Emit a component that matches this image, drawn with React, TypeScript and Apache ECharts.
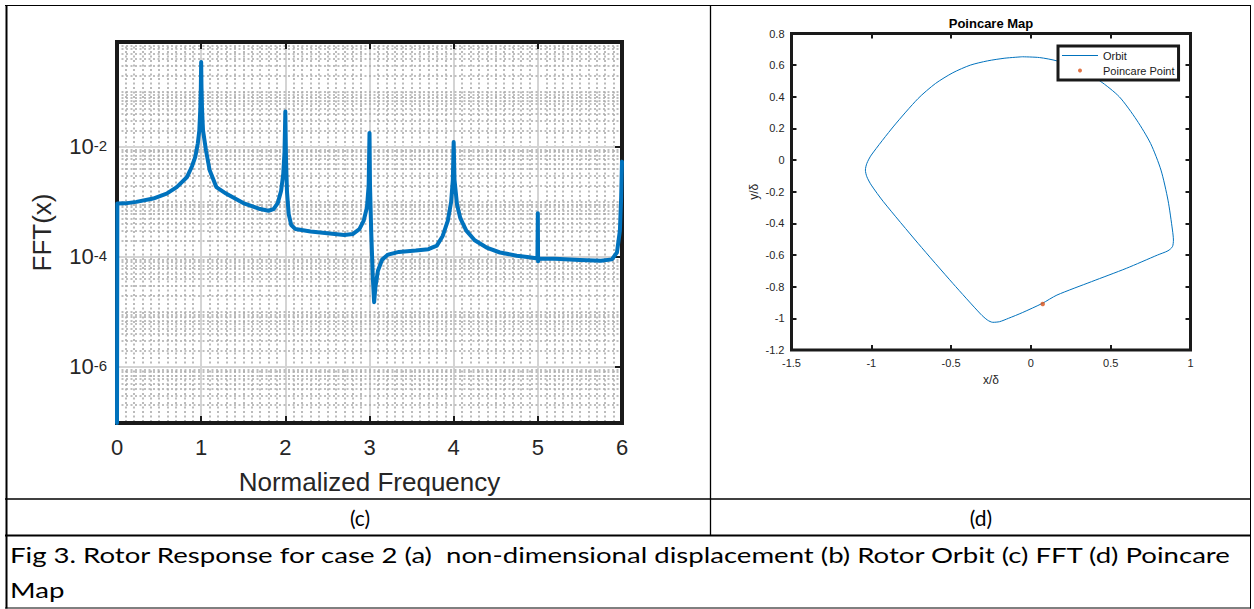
import React, { useEffect, useRef } from "react";
import * as echarts from "echarts";

// ---------- FFT panel data ----------
const fftFreq = [
  0, 0.004, 0.1, 0.23, 0.43, 0.59, 0.71, 0.83, 0.89, 0.93, 0.96, 0.978, 0.99, 0.996, 1.0,
  1.004, 1.01, 1.022, 1.057, 1.1, 1.18, 1.3, 1.5, 1.7, 1.8, 1.86, 1.91, 1.95, 1.975, 1.99,
  2.0, 2.008, 2.02, 2.04, 2.07, 2.12, 2.3, 2.5, 2.7, 2.8, 2.88, 2.93, 2.97, 2.99, 3.0,
  3.006, 3.02, 3.04, 3.055, 3.07, 3.1, 3.15, 3.22, 3.35, 3.55, 3.7, 3.8, 3.87, 3.93, 3.97,
  3.99, 4.0, 4.01, 4.04, 4.08, 4.15, 4.25, 4.4, 4.55, 4.75, 4.9, 4.995, 5.0, 5.003, 5.01,
  5.2, 5.5, 5.75, 5.88, 5.94, 5.975, 5.99, 6.0,
];
const fftAmp = [
  9.5e-8, 9.3e-4, 9.4e-4, 1.0e-3, 1.15e-3, 1.41e-3, 1.86e-3, 2.8e-3, 4.4e-3, 6.6e-3, 1.15e-2, 2.0e-2, 5.0e-2, 1.2e-1, 3.5e-1,
  1.2e-1, 5.0e-2, 2.0e-2, 8.7e-3, 3.8e-3, 1.86e-3, 1.4e-3, 9.5e-4, 7.4e-4, 6.9e-4, 7.4e-4, 9.5e-4, 1.6e-3, 3.2e-3, 8.0e-3,
  4.4e-2, 6.0e-3, 1.5e-3, 6.0e-4, 3.8e-4, 3.2e-4, 2.9e-4, 2.7e-4, 2.5e-4, 2.6e-4, 3.2e-4, 4.5e-4, 8.0e-4, 2.0e-3, 1.8e-2,
  2.0e-3, 3.0e-4, 4.0e-5, 1.5e-5, 2.8e-5, 5.6e-5, 8.9e-5, 1.1e-4, 1.23e-4, 1.3e-4, 1.38e-4, 1.6e-4, 2.4e-4, 4.5e-4, 1.0e-3,
  2.5e-3, 1.23e-2, 2.5e-3, 8.9e-4, 5.0e-4, 3.0e-4, 2.0e-4, 1.45e-4, 1.2e-4, 1.05e-4, 9.8e-5, 9.3e-5, 6.2e-4, 8.3e-5, 9.3e-5,
  9.2e-5, 8.8e-5, 8.5e-5, 9.0e-5, 1.2e-4, 3.0e-4, 1.2e-3, 5.4e-3,
];
const fftXTickValues = [0, 1, 2, 3, 4, 5, 6];
const fftYTickValues = [1e-6, 1e-4, 1e-2];
const fftDecadeExps = [-7, -6, -5, -4, -3, -2, -1];
const fftMinorMultipliers = [1, 2, 3, 4, 5, 6, 7, 8, 9];
const FFT_Y_MIN = 9.5e-8;
const FFT_Y_MAX = 0.81;

// ---------- Poincare panel data ----------
const orbitX = [
  -0.054, 0.054, 0.163, 0.3, 0.433, 0.554, 0.663, 0.75, 0.815, 0.859, 0.887, 0.893, 0.887, 0.859,
  0.793, 0.598, 0.38, 0.163, 0.072, -0.054, -0.141, -0.196, -0.239, -0.272, -0.315, -0.489, -0.707,
  -0.924, -1.0, -1.028, -1.037, -1.028, -1.0, -0.859, -0.707, -0.598, -0.489, -0.38, -0.272, -0.163, -0.054,
];
const orbitY = [
  0.653, 0.648, 0.627, 0.578, 0.5, 0.4, 0.253, 0.105, -0.063, -0.253, -0.442, -0.505, -0.547, -0.573,
  -0.6, -0.684, -0.768, -0.853, -0.905, -0.964, -1.0, -1.021, -1.025, -1.011, -0.973, -0.779, -0.526,
  -0.263, -0.158, -0.105, -0.063, -0.021, 0.032, 0.215, 0.389, 0.484, 0.552, 0.6, 0.627, 0.644, 0.653,
];
const poincareX = [0.074];
const poincareY = [-0.909];

// ---------- texts ----------
const fftXName = "Normalized Frequency";
const fftYName = "FFT(x)";
const pTitle = "Poincare Map";
const pXName = "x/δ";
const pYName = "y/δ";
const legendNames = ["Orbit", "Poincare Point"];
const captionC = "(c)";
const captionD = "(d)";
const captionLine1 =
  "Fig 3. Rotor Response for case 2 (a)  non-dimensional displacement (b) Rotor Orbit (c) FFT (d) Poincare";
const captionLine2 = "Map";

const MFONT = "'Liberation Sans', Arial, Helvetica, sans-serif";
const CFONT = "Lato, 'Open Sans', sans-serif";
const TXT = "#262626";
const BLUE = "#0072BD";
const ORANGE = "#D95319";

export default function App() {
  const ref = useRef<HTMLDivElement>(null);

  useEffect(() => {
    if (!ref.current) return;
    const chart = echarts.init(ref.current, null, { renderer: "svg" });

    // caption width fit
    let capScale = 1;
    const cv = document.createElement("canvas").getContext("2d");
    if (cv) {
      cv.font = "21px Lato";
      const w = cv.measureText(captionLine1).width;
      if (w > 0) capScale = 1223 / w;
    }

    const minorY: number[] = [];
    fftDecadeExps.forEach((e) => {
      fftMinorMultipliers.forEach((m) => {
        const v = m * Math.pow(10, e);
        const isMajor = fftYTickValues.some((t) => Math.abs(t - v) / t < 1e-9);
        if (!isMajor && v > FFT_Y_MIN && v < FFT_Y_MAX) minorY.push(v);
      });
    });

    const fftData = fftFreq.map((f, i) => [f, fftAmp[i]]);
    const orbitData = orbitX.map((x, i) => [x, orbitY[i]]);
    const pointData = poincareX.map((x, i) => [x, poincareY[i]]);

    const tick = (len: number, w: number) => ({
      show: true,
      inside: true,
      length: len,
      lineStyle: { color: "#1a1a1a", width: w },
    });
    const noLine = { show: false, onZero: false };
    const DOT = { color: "#ababab", width: 1.6, type: [2, 2.5] };

    const option: any = {
      animation: false,
      backgroundColor: "#fff",
      grid: [
        {
          left: 117, top: 42, width: 505, height: 381,
          show: true, borderColor: "#1a1a1a", borderWidth: 4,
          backgroundColor: "transparent", z: 2,
        },
        {
          left: 791.5, top: 33.5, width: 399, height: 316.5,
          show: true, borderColor: "#1a1a1a", borderWidth: 3,
          backgroundColor: "transparent", z: 2,
        },
      ],
      xAxis: [
        {
          type: "value", gridIndex: 0, min: 0, max: 6, interval: 1,
          axisLine: noLine,
          axisTick: tick(7, 2),
          axisLabel: {
            color: TXT, fontSize: 22, fontFamily: MFONT, margin: 13,
            customValues: fftXTickValues,
          },
          splitLine: { show: true, lineStyle: { color: "#d4d4d4", width: 2 } },
          minorTick: { show: false, splitNumber: 10 },
          minorSplitLine: { show: true, lineStyle: DOT },
          name: fftXName, nameLocation: "middle", nameGap: 46,
          nameTextStyle: { color: TXT, fontSize: 26, fontFamily: MFONT },
        },
        {
          type: "value", gridIndex: 0, min: 0, max: 6, interval: 1, position: "top",
          axisLine: noLine, axisTick: tick(7, 2), axisLabel: { show: false },
          splitLine: { show: false }, z: 3,
        },
        {
          type: "value", gridIndex: 1, min: -1.5, max: 1, interval: 0.5,
          axisLine: noLine, axisTick: tick(5, 2),
          axisLabel: { color: TXT, fontSize: 11, fontFamily: MFONT, margin: 7 },
          splitLine: { show: false },
          name: pXName, nameLocation: "middle", nameGap: 24,
          nameTextStyle: { color: TXT, fontSize: 12, fontFamily: MFONT },
        },
        {
          type: "value", gridIndex: 1, min: -1.5, max: 1, interval: 0.5, position: "top",
          axisLine: noLine, axisTick: tick(5, 2), axisLabel: { show: false },
          splitLine: { show: false }, z: 3,
        },
      ],
      yAxis: [
        {
          type: "log", gridIndex: 0, min: FFT_Y_MIN, max: FFT_Y_MAX, logBase: 10,
          axisLine: noLine,
          axisTick: { ...tick(7, 2), customValues: fftYTickValues },
          splitLine: { show: false },
          axisLabel: {
            customValues: fftYTickValues,
            margin: 10,
            formatter: (v: number) => {
              const e = Math.log10(v);
              const r = Math.round(e);
              if (Math.abs(e - r) > 1e-6 || ![-2, -4, -6].includes(r)) return "";
              return `{b|10}{s|${r}}`;
            },
            rich: {
              b: { fontSize: 22, fontFamily: MFONT, color: TXT, lineHeight: 22, padding: [8, 0, 0, 0], verticalAlign: "bottom" },
              s: { fontSize: 15, fontFamily: MFONT, color: TXT, lineHeight: 15, padding: [2, 0, 0, 0], verticalAlign: "top" },
            },
          },
          name: fftYName, nameLocation: "middle", nameGap: 62, nameRotate: 90,
          nameTextStyle: { color: TXT, fontSize: 26, fontFamily: MFONT },
        },
        {
          type: "log", gridIndex: 0, min: FFT_Y_MIN, max: FFT_Y_MAX, logBase: 10, position: "right",
          axisLine: noLine,
          axisTick: { ...tick(7, 2), customValues: fftYTickValues },
          axisLabel: { show: false }, splitLine: { show: false }, z: 3,
        },
        {
          type: "value", gridIndex: 1, min: -1.2, max: 0.8, interval: 0.2,
          axisLine: noLine, axisTick: tick(5, 2),
          axisLabel: { color: TXT, fontSize: 11, fontFamily: MFONT, margin: 7 },
          splitLine: { show: false },
          name: pYName, nameLocation: "middle", nameGap: 32, nameRotate: 90,
          nameTextStyle: { color: TXT, fontSize: 12, fontFamily: MFONT },
        },
        {
          type: "value", gridIndex: 1, min: -1.2, max: 0.8, interval: 0.2, position: "right",
          axisLine: noLine, axisTick: tick(5, 2), axisLabel: { show: false },
          splitLine: { show: false }, z: 3,
        },
      ],
      legend: {
        data: [
          { name: legendNames[0], icon: "path://M0,0L36,0L36,1L0,1Z" },
          { name: legendNames[1], icon: "circle" },
        ],
        orient: "vertical",
        left: 1058, top: 46,
        itemWidth: 36, itemHeight: 4, itemGap: 2,
        symbolKeepAspect: true,
        padding: [3, 4, 3, 4],
        borderColor: "#1a1a1a", borderWidth: 3, borderRadius: 0,
        backgroundColor: "#fff",
        textStyle: { color: "#1a1a1a", fontSize: 11, fontFamily: MFONT, lineHeight: 13 },
        selectedMode: false,
        z: 10,
      },
      series: [
        {
          name: "minorGrid", type: "lines", coordinateSystem: "cartesian2d",
          xAxisIndex: 0, yAxisIndex: 0, silent: true, z: 1,
          data: minorY.map((v) => ({ coords: [[0, v], [6, v]] })),
          lineStyle: { ...DOT, opacity: 1 },
        },
        {
          name: "majorGrid", type: "lines", coordinateSystem: "cartesian2d",
          xAxisIndex: 0, yAxisIndex: 0, silent: true, z: 1,
          data: fftYTickValues.map((v) => ({ coords: [[0, v], [6, v]] })),
          lineStyle: { color: "#d4d4d4", width: 2, type: "solid", opacity: 1 },
        },
        {
          name: "FFT", type: "line", xAxisIndex: 0, yAxisIndex: 0,
          data: fftData, showSymbol: false, symbol: "none", z: 3,
          lineStyle: { color: BLUE, width: 4, join: "round", cap: "round" },
        },
        {
          name: legendNames[0], type: "line", xAxisIndex: 2, yAxisIndex: 2,
          data: orbitData, symbol: "none", showSymbol: false, smooth: 0.25, z: 3,
          color: BLUE,
          lineStyle: { color: BLUE, width: 1 },
        },
        {
          name: legendNames[1], type: "scatter", xAxisIndex: 2, yAxisIndex: 2,
          data: pointData, symbol: "circle", symbolSize: 4.5, z: 4,
          itemStyle: { color: ORANGE },
        },
      ],
      graphic: [
        // table borders
        { type: "line", shape: { x1: 5, y1: 5.5, x2: 1251, y2: 5.5 }, style: { stroke: "#000", lineWidth: 1 } },
        { type: "line", shape: { x1: 6.5, y1: 5, x2: 6.5, y2: 608.5 }, style: { stroke: "#000", lineWidth: 2 } },
        { type: "line", shape: { x1: 1250.5, y1: 5, x2: 1250.5, y2: 608.5 }, style: { stroke: "#000", lineWidth: 1 } },
        { type: "line", shape: { x1: 5, y1: 608, x2: 1251, y2: 608 }, style: { stroke: "#000", lineWidth: 1 } },
        { type: "line", shape: { x1: 710.5, y1: 5, x2: 710.5, y2: 535 }, style: { stroke: "#000", lineWidth: 1.3 } },
        { type: "line", shape: { x1: 5, y1: 499, x2: 1251, y2: 499 }, style: { stroke: "#000", lineWidth: 1.3 } },
        { type: "line", shape: { x1: 5, y1: 535.5, x2: 1251, y2: 535.5 }, style: { stroke: "#000", lineWidth: 2 } },
        // title of poincare
        {
          type: "text", x: 991, y: 23,
          style: { text: pTitle, fill: "#000", font: `bold 13px ${MFONT}`, align: "center", verticalAlign: "middle" },
        },
        // captions
        {
          type: "text", x: 360, y: 517,
          style: { text: captionC, fill: "#000", font: `21px ${CFONT}`, align: "center", verticalAlign: "middle" },
        },
        {
          type: "text", x: 981, y: 517,
          style: { text: captionD, fill: "#000", font: `21px ${CFONT}`, align: "center", verticalAlign: "middle" },
        },
        {
          type: "text", x: 10, y: 555, scaleX: capScale,
          style: { text: captionLine1, fill: "#000", font: `21px ${CFONT}`, align: "left", verticalAlign: "middle" },
        },
        {
          type: "text", x: 10, y: 590, scaleX: capScale,
          style: { text: captionLine2, fill: "#000", font: `21px ${CFONT}`, align: "left", verticalAlign: "middle" },
        },
      ],
    };

    chart.setOption(option);
    return () => chart.dispose();
  }, []);

  return (
    <div
      ref={ref}
      style={{ position: "absolute", left: 0, top: 0, width: 1254, height: 609, background: "#fff" }}
    />
  );
}
